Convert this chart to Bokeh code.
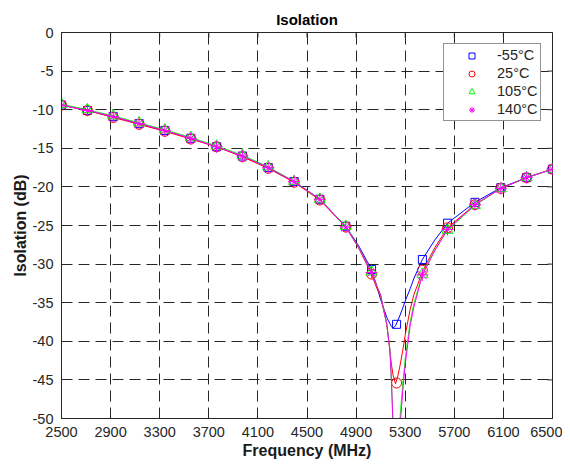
import math
from bokeh.plotting import figure
from bokeh.models import FixedTicker, Range1d, Legend, LegendItem
from bokeh.embed import file_html
from bokeh.resources import INLINE

# ---- data ----
x_ticks = [2500, 2900, 3300, 3700, 4100, 4500, 4900, 5300, 5700, 6100, 6500]
x_tick_labels = ["2500", "2900", "3300", "3700", "4100", "4500", "4900", "5300",
                 "5700", "6100", "6500"]
y_ticks = [0, -5, -10, -15, -20, -25, -30, -35, -40, -45, -50]
y_tick_labels = ["0", "-5", "-10", "-15", "-20", "-25", "-30", "-35", "-40", "-45", "-50"]

# marker samples
freq_marker = [2500, 2711, 2921, 3132, 3342, 3553, 3763, 3974, 4184, 4395,
               4605, 4816, 5026, 5230, 5440, 5645, 5868, 6079, 6289, 6500]
m55_marker = [-9.4, -10.1, -10.9, -11.8, -12.7, -13.7, -14.8, -16.0, -17.5, -19.3,
              -21.6, -25.1, -30.7, -37.8, -29.4, -24.7, -22.0, -20.1, -18.8, -17.7]
p25_marker = [-9.4, -10.1, -11.0, -11.9, -12.8, -13.8, -14.8, -16.1, -17.6, -19.4,
              -21.7, -25.2, -31.3, -45.4, -30.8, -25.3, -22.3, -20.2, -18.8, -17.7]
p105_marker = [-9.3, -10.0, -10.8, -11.7, -12.6, -13.6, -14.7, -15.9, -17.4, -19.3,
               -21.6, -25.1, -31.0, -57.0, -31.3, -25.6, -22.4, -20.2, -18.8, -17.7]
p140_marker = [-9.4, -10.1, -10.9, -11.8, -12.7, -13.7, -14.8, -16.0, -17.5, -19.3,
               -21.6, -25.2, -31.1, -58.0, -31.4, -25.5, -22.3, -20.2, -18.8, -17.7]

# traced curves (denser near the notch)
freq_line = [2500, 2711, 2921, 3132, 3342, 3553, 3763, 3974, 4184, 4395,
             4605, 4816, 4920, 5026, 5060, 5100, 5150, 5175, 5188, 5200,
             5221, 5240, 5256, 5280, 5300, 5340, 5370, 5440, 5540, 5645,
             5868, 6079, 6289, 6500]
m55_line = [-9.4, -10.1, -10.9, -11.8, -12.7, -13.7, -14.8, -16.0, -17.5, -19.3,
            -21.6, -25.1, -27.6, -30.7, -32.4, -34.6, -36.9, -37.7, -38.1, -38.3,
            -38.0, -37.3, -36.7, -35.7, -34.8, -33.2, -31.9, -29.4, -26.9, -24.7,
            -22.0, -20.1, -18.8, -17.7]
p25_line = [-9.4, -10.1, -11.0, -11.9, -12.8, -13.8, -14.8, -16.1, -17.6, -19.4,
            -21.7, -25.2, -27.9, -31.3, -32.8, -34.2, -37.8, -41.2, -43.0, -44.3,
            -45.5, -44.5, -43.3, -41.2, -39.2, -35.9, -34.0, -31.0, -27.9, -25.3,
            -22.3, -20.2, -18.8, -17.7]
p105_line = [-9.3, -10.0, -10.8, -11.7, -12.6, -13.6, -14.7, -15.9, -17.4, -19.3,
             -21.6, -25.1, -27.8, -31.0, -32.5, -34.0, -37.8, -41.0, -45.2, -50.5,
             -57.0, -56.0, -50.2, -45.5, -42.3, -37.5, -35.2, -31.3, -28.2, -25.6,
             -22.4, -20.2, -18.8, -17.7]
p140_line = [-9.4, -10.1, -10.9, -11.8, -12.7, -13.7, -14.8, -16.0, -17.5, -19.3,
             -21.6, -25.2, -27.8, -31.1, -32.5, -34.0, -37.8, -41.0, -45.2, -50.3,
             -57.0, -59.0, -51.5, -46.5, -43.0, -38.0, -35.6, -31.4, -28.3, -25.5,
             -22.3, -20.2, -18.8, -17.7]

labels = ["-55°C", "25°C", "105°C", "140°C"]
colors = ["#0000ff", "#ff0000", "#00ff00", "#ff00ff"]
markers = ["square", "circle", "triangle", "asterisk"]
marker_sizes = [8, 10, 11, 12]

FONT = "Liberation Sans"
AX = "#262626"

p = figure(width=562, height=461, output_backend="svg", toolbar_location=None,
           x_range=Range1d(2500, 6500), y_range=Range1d(-50, 0),
           min_border_left=61, min_border_right=10, min_border_top=32,
           min_border_bottom=43, background_fill_color="white",
           border_fill_color="white")

p.title.text = "Isolation"
p.title.align = "center"
p.title.text_font = FONT
p.title.text_font_size = "15px"
p.title.text_font_style = "bold"
p.title.text_color = "#000000"
p.title.standoff = 10

p.outline_line_color = AX
p.outline_line_width = 1

xt = FixedTicker(ticks=x_ticks)
yt = FixedTicker(ticks=y_ticks)

for ax, t in ((p.xaxis[0], xt), (p.yaxis[0], yt)):
    ax.ticker = t
    ax.major_tick_in = 5
    ax.major_tick_out = 0
    ax.minor_tick_line_color = None
    ax.axis_line_color = AX
    ax.major_tick_line_color = AX
    ax.major_label_text_color = AX
    ax.major_label_text_font = FONT
    ax.major_label_text_font_size = "14.5px"
    ax.axis_label_text_font = FONT
    ax.axis_label_text_font_size = "16px"
    ax.axis_label_text_font_style = "bold"
    ax.axis_label_text_color = "#1a1a1a"

p.xaxis.major_label_overrides = dict(zip(x_ticks, x_tick_labels))
p.yaxis.major_label_overrides = dict(zip(y_ticks, y_tick_labels))
p.xaxis.axis_label = "Frequency (MHz)"
p.yaxis.axis_label = "Isolation (dB)"
p.xaxis.major_label_standoff = 8
p.xaxis.axis_label_standoff = 2
p.yaxis.major_label_standoff = 8
p.yaxis.axis_label_standoff = 1

for g, tk in ((p.xgrid, xt), (p.ygrid, yt)):
    g.ticker = tk
    g.grid_line_color = AX
    g.grid_line_dash = "11 6"
    g.grid_line_width = 1

# inward tick marks on the top and right edges of the box (clipped by the frame)
p.scatter(x_ticks, [p.y_range.end] * len(x_ticks), marker="dash", angle=math.pi / 2,
          size=10, line_color=AX, line_width=1)
p.scatter([p.x_range.end] * len(y_ticks), y_ticks, marker="dash",
          size=10, line_color=AX, line_width=1)

line_data = [m55_line, p25_line, p105_line, p140_line]
mark_data = [m55_marker, p25_marker, p105_marker, p140_marker]

items = []
for lab, c, mk, ms, ly, my in zip(labels, colors, markers, marker_sizes, line_data, mark_data):
    p.line(freq_line, ly, line_color=c, line_width=1)
    r = p.scatter(freq_marker, my, marker=mk, size=ms, line_color=c,
                  fill_color=None, line_width=1)
    items.append(LegendItem(label=lab, renderers=[r]))

legend = Legend(items=items, location=(382, 297), margin=0, padding=3,
                spacing=2, glyph_height=15, glyph_width=49, label_height=15,
                label_standoff=1, label_text_font=FONT,
                label_text_font_size="14.5px", label_text_color=AX,
                border_line_color=AX, border_line_width=1,
                background_fill_color="white", background_fill_alpha=1)
p.add_layout(legend)

open("out.html", "w").write(file_html(p, INLINE))
